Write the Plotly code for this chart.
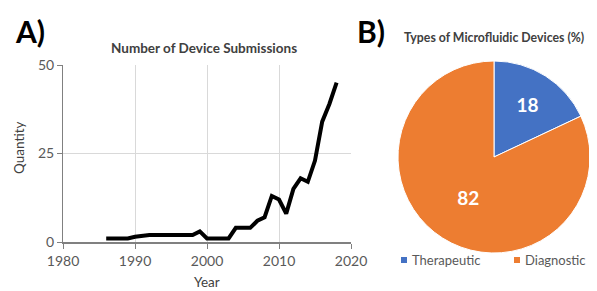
import plotly.graph_objects as go

years = [1986, 1987, 1988, 1989, 1990, 1991, 1992, 1993, 1994, 1995, 1996, 1997, 1998, 1999,
         2000, 2001, 2002, 2003, 2004, 2005, 2006, 2007, 2008, 2009, 2010, 2011, 2012, 2013,
         2014, 2015, 2016, 2017, 2018]
quantity = [1, 1, 1, 1, 1.5, 1.8, 2, 2, 2, 2, 2, 2, 2, 3,
            1, 1, 1, 1, 4, 4, 4, 6, 7, 13, 12, 8, 15, 18,
            17, 23, 34, 39, 45]

pie_labels = ["Therapeutic", "Diagnostic"]
pie_values = [18, 82]
pie_colors = ["#4472C4", "#ED7D31"]

FONT = "Lato"
OFF = 8  # default body margin of the page
W, H = 597 - OFF, 291 - OFF


def px(x):
    return (x - OFF) / W


def py(y):
    return 1 - (y - OFF) / H


fig = go.Figure()
fig.add_trace(go.Scatter(x=years, y=quantity, mode="lines",
                         line=dict(color="black", width=4),
                         showlegend=False, xaxis="x", yaxis="y"))
fig.add_trace(go.Pie(labels=pie_labels, values=pie_values, sort=False,
                     direction="clockwise", rotation=0,
                     marker=dict(colors=pie_colors, line=dict(color="white", width=1)),
                     textinfo="value", textposition="inside",
                     insidetextfont=dict(color="white", size=19, family=FONT),
                     texttemplate="<b>%{value}</b>",
                     domain=dict(x=[px(398), px(590)], y=[py(253), py(61)]),
                     showlegend=False, hoverinfo="label+value"))

fig.update_layout(
    width=W, height=H,
    margin=dict(l=0, r=0, t=0, b=0, autoexpand=False),
    paper_bgcolor="white", plot_bgcolor="white",
    font=dict(family=FONT, color="#595959", size=13),
    xaxis=dict(domain=[px(63), px(351)], range=[1980, 2020], tickvals=[1980, 1990, 2000, 2010, 2020],
               showgrid=True, gridcolor="#d9d9d9", gridwidth=1, zeroline=False,
               showline=True, linecolor="#808080", linewidth=1.5,
               ticks="outside", ticklen=5, tickcolor="#808080",
               tickfont=dict(size=14, color="#595959"), anchor="y", automargin=False),
    yaxis=dict(domain=[py(242), py(65)], range=[0, 50], tickvals=[0, 25, 50],
               showgrid=True, gridcolor="#d9d9d9", gridwidth=1, zeroline=False,
               showline=True, linecolor="#808080", linewidth=1,
               ticks="outside", ticklen=5, tickcolor="#808080",
               tickfont=dict(size=14, color="#595959"), anchor="x", automargin=False),
    showlegend=False,
)

# legend drawn as small squares + labels
legend_items = [(404, pie_labels[0], pie_colors[0]), (517, pie_labels[1], pie_colors[1])]
for lx, lab, col in legend_items:
    fig.add_shape(type="rect", xref="paper", yref="paper",
                  x0=px(lx - 3), x1=px(lx + 3), y0=py(263), y1=py(257),
                  fillcolor=col, line=dict(width=0))
    fig.add_annotation(text=lab, x=px(lx + 6), y=py(260), xref="paper", yref="paper",
                       xanchor="left", yanchor="middle", showarrow=False,
                       font=dict(family=FONT, size=13, color="#595959"))

ann = [
    dict(text="<b>A)</b>", x=13, y=31, font=dict(size=30, color="black"), xa="left"),
    dict(text="<b>Number of Device Submissions</b>", x=204, y=48, font=dict(size=13.5, color="#404040"), xa="center"),
    dict(text="Quantity", x=19, y=148, textangle=-90, font=dict(size=13.5, color="#404040"), xa="center"),
    dict(text="Year", x=207, y=282, font=dict(size=13.5, color="#404040"), xa="center"),
    dict(text="<b>B)</b>", x=355, y=31, font=dict(size=30, color="black"), xa="left"),
    dict(text="<b>Types of Microfluidic Devices (%)</b>", x=494, y=38, font=dict(size=12.3, color="#404040"), xa="center"),
]
for a in ann:
    fig.add_annotation(text=a["text"], x=px(a["x"]), y=py(a["y"]), xref="paper", yref="paper",
                       xanchor=a["xa"], yanchor="middle", showarrow=False,
                       textangle=a.get("textangle", 0), font=dict(family=FONT, **a["font"]))

fig.write_html("out.html")
